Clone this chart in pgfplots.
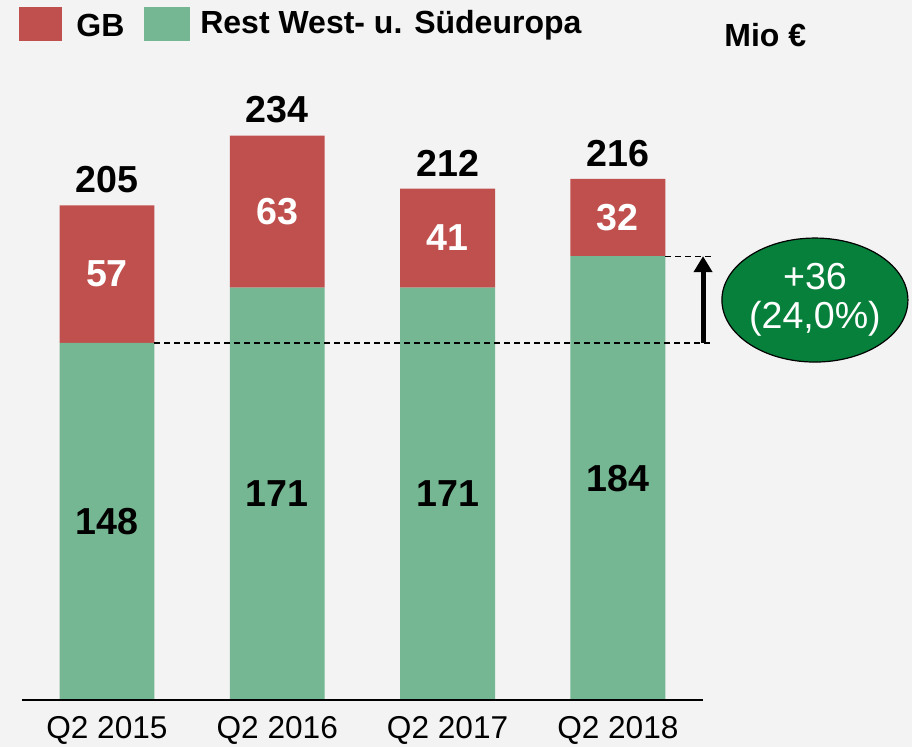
\documentclass[border=0pt]{standalone}
\usepackage{fontspec}
\setmainfont{Liberation Sans}
\usepackage{pgfplots}
\pgfplotsset{compat=1.18}
\usepackage{pgfplotstable}
\usetikzlibrary{arrows.meta}
\definecolor{gbred}{HTML}{C0504D}
\definecolor{restgreen}{HTML}{75B792}
\definecolor{ellgreen}{HTML}{06803A}
\definecolor{bg}{HTML}{F3F3F3}

% GB and rest of West/South Europe, Mio EUR
\pgfplotstableread{
x  rest  gb  total  restmid  gbmid
0  148   57  205    74       176.5
1  171   63  234    85.5     202.5
2  171   41  212    85.5     191.5
3  184   32  216    92       200
}\datatable

\begin{document}
\begin{tikzpicture}
\fill[bg] (0,-23.5pt) rectangle (456pt,350pt);
\begin{axis}[
    at={(0,0)}, anchor=south west,
    scale only axis, width=456pt, height=350pt,
    xmin=-0.628, xmax=4.727, ymin=0, ymax=290.2,
    ybar stacked, bar width=0.557,
    hide y axis,
    axis x line*=bottom,
    x axis line style={draw=none},
    xtick={0,1,2,3},
    xticklabels={Q2 2015, Q2 2016, Q2 2017, Q2 2018},
    major tick length=0pt,
    xticklabel style={font=\fontsize{15.8}{18}\selectfont, yshift=-4.5pt},
    clip=false,
]
\addplot[fill=restgreen, draw=none] table[x=x, y=rest] {\datatable};
\addplot[fill=gbred, draw=none] table[x=x, y=gb] {\datatable};
\end{axis}
\begin{axis}[
    at={(0,0)}, anchor=south west,
    scale only axis, width=456pt, height=350pt,
    xmin=-0.628, xmax=4.727, ymin=0, ymax=290.2,
    axis lines=none, clip=false,
]
\addplot[only marks, mark=none, nodes near coords, point meta=explicit symbolic,
    nodes near coords style={font=\fontsize{18.8}{20}\selectfont\bfseries, anchor=center, text=black}]
    table[x=x, y=restmid, meta=rest] {\datatable};
\addplot[only marks, mark=none, nodes near coords, point meta=explicit symbolic,
    nodes near coords style={font=\fontsize{18.8}{20}\selectfont\bfseries, anchor=center, text=white}]
    table[x=x, y=gbmid, meta=gb] {\datatable};
\addplot[only marks, mark=none, nodes near coords, point meta=explicit symbolic,
    nodes near coords style={font=\fontsize{18.8}{20}\selectfont\bfseries, anchor=south, inner sep=0pt, yshift=6pt, text=black}]
    table[x=x, y=total, meta=total] {\datatable};
% baseline
\draw[black, line width=1pt] (axis cs:-0.5,0) -- (axis cs:3.5,0);
% growth marker
\draw[dashed, line width=0.6pt, dash pattern=on 3pt off 2pt] (axis cs:0.2785,148) -- (axis cs:3.56,148);
\draw[dashed, line width=0.6pt, dash pattern=on 3pt off 2pt] (axis cs:3.2785,184) -- (axis cs:3.56,184);
\draw[line width=2.5pt, -{Triangle[width=9pt,length=8pt]}] (axis cs:3.50,148) -- (axis cs:3.50,184);
\draw[fill=ellgreen, draw=black, line width=0.6pt] (axis cs:4.157,165.8) ellipse [x radius=46.5pt, y radius=31pt];
\node[align=center, text=white, font=\fontsize{18.8}{19.5}\selectfont] at (axis cs:4.157,165.8) {+36\\(24,0\%)};
% legend
\fill[gbred] (axis cs:-0.517,287.3) rectangle (axis cs:-0.264,273.2);
\node[anchor=west, inner sep=0pt, font=\fontsize{16}{18}\selectfont\bfseries] at (axis cs:-0.182,279.8) {GB};
\fill[restgreen] (axis cs:0.217,287.3) rectangle (axis cs:0.487,273.2);
\node[anchor=west, inner sep=0pt, font=\fontsize{16}{18}\selectfont\bfseries] at (axis cs:0.546,279.8) {Rest West- u. Südeuropa};
\node[anchor=west, inner sep=0pt, font=\fontsize{16}{18}\selectfont\bfseries] at (axis cs:3.623,275.7) {Mio €};
\end{axis}
\pgfresetboundingbox
\useasboundingbox (0,-23.5pt) rectangle (456pt,350pt);
\end{tikzpicture}
\end{document}
